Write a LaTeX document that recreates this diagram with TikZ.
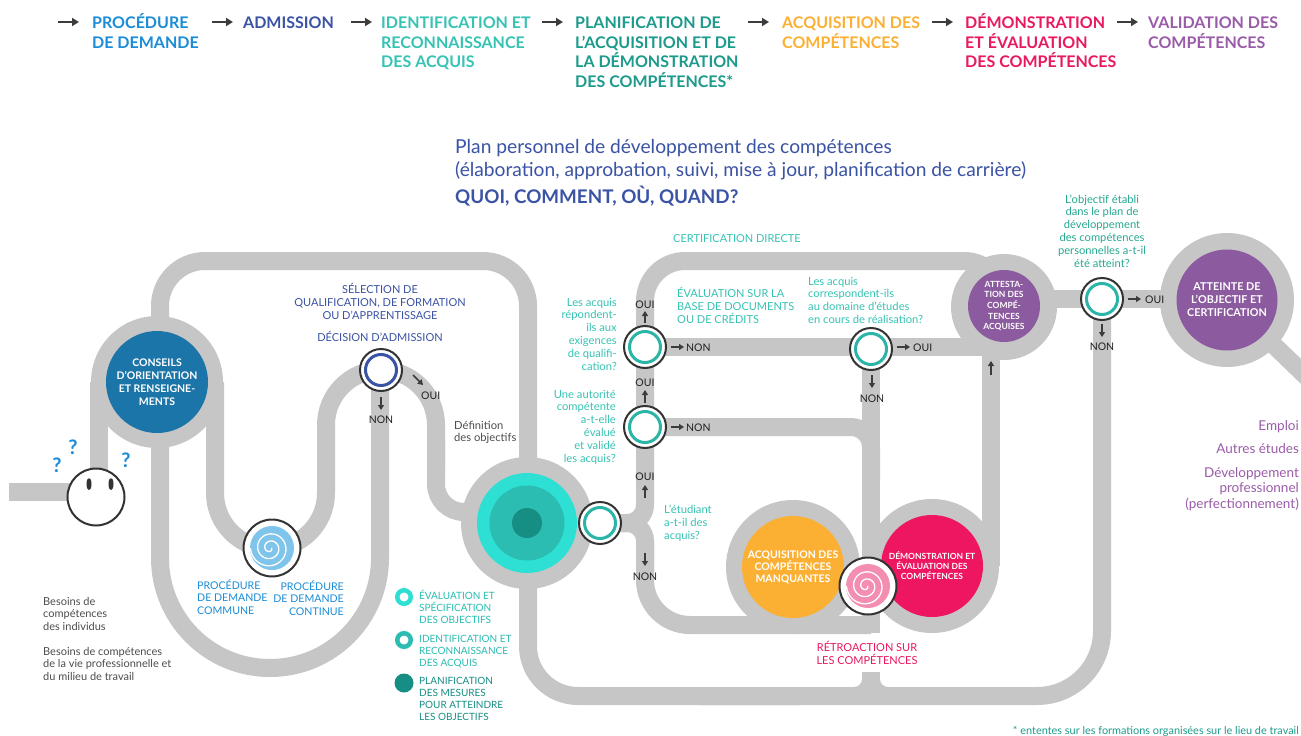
\documentclass[tikz,border=0pt]{standalone}
\usepackage{fontspec}
\setmainfont{Lato}
\usetikzlibrary{arrows.meta}
\definecolor{roadgray}{HTML}{C6C6C6}
\definecolor{arrowgray}{HTML}{3C3C3C}
\definecolor{lineblack}{HTML}{333333}
\definecolor{procblue}{HTML}{1A8CD8}
\definecolor{admblue}{HTML}{3A53A4}
\definecolor{tealA}{HTML}{36C3B3}
\definecolor{tealB}{HTML}{1C9A8B}
\definecolor{tealQ}{HTML}{27A890}
\definecolor{orangeC}{HTML}{FBB034}
\definecolor{pinkH}{HTML}{E8195E}
\definecolor{redC}{HTML}{EE1660}
\definecolor{purpleH}{HTML}{9A5BA8}
\definecolor{purpleC}{HTML}{8C5A9E}
\definecolor{conseilblue}{HTML}{1C75A8}
\definecolor{tealbright}{HTML}{2EE0D3}
\definecolor{tealmid}{HTML}{2BBCB2}
\definecolor{tealdark}{HTML}{168E84}
\definecolor{spiralblue}{HTML}{7FC4EA}
\definecolor{spiralpink}{HTML}{F38DB1}
\definecolor{textgray}{HTML}{4D4D4D}
\definecolor{ringteal}{HTML}{2BB5A8}
\definecolor{ynblack}{HTML}{222222}
\begin{document}
\begin{tikzpicture}[x=1pt,y=-1pt,
  road/.style={draw=roadgray, line width=18pt},
  hdr/.style={font=\bfseries\fontsize{16}{19.6}\selectfont, anchor=base west, align=left, inner sep=0pt},
  harrow/.style={-{Triangle[length=7pt,width=8pt]}, line width=2.2pt, draw=arrowgray},
  sarrow/.style={-{Triangle[length=5pt,width=6pt]}, line width=1.5pt, draw=arrowgray},
  small/.style={font=\fontsize{11.2}{12.8}\selectfont, inner sep=0pt},
  caps/.style={font=\fontsize{11}{12.8}\selectfont, inner sep=0pt},
  yn/.style={font=\fontsize{10.5}{12}\selectfont, text=ynblack, inner sep=0pt, anchor=base},
  dec/.style={circle, draw=lineblack, line width=2pt, fill=white, minimum size=42pt, inner sep=0pt},
  spir/.style={circle, draw=lineblack, line width=2pt, fill=white, minimum size=57pt, inner sep=0pt},
  bigc/.style={circle, inner sep=0pt, text=white, align=center},
  lgd/.style={font=\fontsize{10}{11.9}\selectfont, inner sep=0pt, anchor=base west, align=left},
]
\useasboundingbox (0,0) rectangle (1301,736);
\fill[white] (0,0) rectangle (1301,736);

% ---------------- header (anchors at last baseline) ----------------
\node[hdr, text=procblue] (h1) at (92,48.1) {PROCÉDURE\\DE DEMANDE};
\node[hdr, text=admblue] (h2) at (243,28.5) {ADMISSION};
\node[hdr, text=tealA] (h3) at (381,67.7) {IDENTIFICATION ET\\RECONNAISSANCE\\DES ACQUIS};
\node[hdr, text=tealB] (h4) at (575,87.3) {PLANIFICATION DE\\L’ACQUISITION ET DE\\LA DÉMONSTRATION\\DES COMPÉTENCES*};
\node[hdr, text=orangeC] (h5) at (782,48.1) {ACQUISITION DES\\COMPÉTENCES};
\node[hdr, text=pinkH] (h6) at (965,67.7) {DÉMONSTRATION\\ET ÉVALUATION\\DES COMPÉTENCES};
\node[hdr, text=purpleH] (h7) at (1148,48.1) {VALIDATION DES\\COMPÉTENCES};
\foreach \xa in {58,212,351,542,748,932,1117}
  \draw[harrow] (\xa,22) -- ++(21,0);

% ---------------- subtitle ----------------
\node[font=\fontsize{19.2}{23}\selectfont, text=admblue, anchor=base west, align=left, inner sep=0pt] (plan) at (455,176)
  {Plan personnel de développement des compétences\\(élaboration, approbation, suivi, mise à jour, planification de carrière)};
\node[font=\bfseries\fontsize{18.8}{21}\selectfont, text=admblue, anchor=base west, inner sep=0pt] (quoi) at (455,203.5)
  {QUOI, COMMENT, OÙ, QUAND?};

% ---------------- roads ----------------
\draw[road] (9,492) -- (96,492);
\draw[road] (99,497) -- (99,382);
\draw[road, rounded corners=45pt] (160,382) -- (160,261) -- (528,261) -- (528,523);
\draw[road] (160,382) -- (160,558) arc(180:0:110) -- (380,370);
\draw[road] (215,382) -- (215,493) arc(180:0:55.5) -- (326,425) arc(180:360:55) -- (436,470);
\draw[road, rounded corners=28pt] (436,440) -- (436,512) -- (527,512);
\draw[road, rounded corners=50pt] (528,523) -- (528,696) -- (800,696);
\draw[road, rounded corners=65pt] (700,696) -- (1102,696) -- (1102,299);
\draw[road] (527,523) -- (600,523);
\draw[road, rounded corners=18pt] (600,523) -- (645,523) -- (645,420);
\draw[road, rounded corners=40pt] (645,440) -- (645,261) -- (1004,261) -- (1004,307);
\draw[road, rounded corners=18pt] (600,523) -- (645,523) -- (645,580);
\draw[road, rounded corners=45pt] (645,540) -- (645,625) -- (871,625);
\draw[road] (645,347) -- (1004,347);
\draw[road, rounded corners=20pt] (645,427) -- (871,427) -- (871,480);
\draw[road] (871,349) -- (871,633);
\draw[road] (871,672) -- (871,696);
\fill[roadgray] (862,687) -- (862,679) arc(0:90:8) -- cycle;
\fill[roadgray] (880,687) -- (880,679) arc(180:90:8) -- cycle;
\draw[road] (991,566) -- (991,307);
\draw[road] (1004,299) -- (1227,299);
\draw[draw=roadgray, line width=18pt] (1227,300) -- (1312,382);

% gray rings
\fill[roadgray] (157,382) circle (66pt);
\fill[roadgray] (527,523) circle (66pt);
\fill[roadgray] (793,567) circle (67pt);
\fill[roadgray] (932,566) circle (67pt);
\fill[roadgray] (1004,307) circle (53pt);
\fill[roadgray] (1227,300) circle (67pt);

% ---------------- big circles ----------------
\node[bigc, fill=conseilblue, minimum size=102pt, font=\bfseries\fontsize{10.5}{13}\selectfont] (conseils) at (157,382)
  {CONSEILS\\D’ORIENTATION\\ET RENSEIGNE-\\MENTS};
\node[circle, fill=tealbright, minimum size=100pt, inner sep=0pt] (teal) at (527,523) {};
\fill[tealmid] (teal.center) circle (37.5pt);
\fill[tealdark] (teal.center) circle (15pt);
\node[bigc, fill=orangeC, minimum size=102pt, font=\bfseries\fontsize{10.5}{12}\selectfont] (orange) at (793,567)
  {ACQUISITION DES\\COMPÉTENCES\\MANQUANTES};
\node[bigc, fill=redC, minimum size=102pt, font=\bfseries\fontsize{8.5}{10}\selectfont] (red) at (932,566)
  {DÉMONSTRATION ET\\ÉVALUATION DES\\COMPÉTENCES};
\node[bigc, fill=purpleC, minimum size=72pt, font=\bfseries\fontsize{8.5}{10.7}\selectfont] (attest) at (1004,306)
  {ATTESTA-\\TION DES\\COMPÉ-\\TENCES\\ACQUISES};
\node[bigc, fill=purpleC, minimum size=101pt, font=\bfseries\fontsize{10.8}{13}\selectfont] (atteinte) at (1227,300)
  {ATTEINTE DE\\L’OBJECTIF ET\\CERTIFICATION};

% ---------------- face ----------------
\node[spir] (face) at (96,497) {};
\fill[lineblack] (89,484) ellipse (2.5pt and 6pt);
\fill[lineblack] (111,484) ellipse (2.5pt and 6pt);
\node[text=procblue, font=\bfseries\fontsize{20}{20}\selectfont, inner sep=0pt] (qm1) at (73,447) {?};
\node[text=procblue, font=\bfseries\fontsize{20}{20}\selectfont, inner sep=0pt] (qm2) at (57,465) {?};
\node[text=procblue, font=\bfseries\fontsize{20}{20}\selectfont, inner sep=0pt] (qm3) at (126,460) {?};

% ---------------- spiral circles ----------------
\node[spir] (sp1) at (272,548) {};
\fill[spiralblue] (sp1.center) circle (22pt);
\draw[white, line width=1.3pt] plot[domain=0:900, samples=150, variable=\t]
  ({270 + (1.5+\t/900*18)*cos(\t)}, {548 + (1.5+\t/900*18)*sin(\t)});
\node[spir] (sp2) at (868,586) {};
\fill[spiralpink] (sp2.center) circle (22pt);
\draw[white, line width=1.3pt] plot[domain=0:900, samples=150, variable=\t]
  ({866 + (1.5+\t/900*18)*cos(\t)}, {586 + (1.5+\t/900*18)*sin(\t)});

% ---------------- decision circles ----------------
\node[dec] (qadm) at (381,370) {};
\draw[admblue, line width=3pt] (qadm.center) circle (15.5pt);
\node[dec] (qetu) at (600,523) {};
\draw[ringteal, line width=3pt] (qetu.center) circle (15.5pt);
\node[dec] (qaut) at (645,427) {};
\draw[ringteal, line width=3pt] (qaut.center) circle (15.5pt);
\node[dec] (qrep) at (645,347) {};
\draw[ringteal, line width=3pt] (qrep.center) circle (15.5pt);
\node[dec] (qcor) at (871,349) {};
\draw[ringteal, line width=3pt] (qcor.center) circle (15.5pt);
\node[dec] (qobj) at (1102,299) {};
\draw[ringteal, line width=3pt] (qobj.center) circle (15.5pt);

% ---------------- OUI / NON ----------------
\draw[sarrow] (381,397) -- (381,410);
\node[yn] (nadm) at (381,423) {NON};
\draw[sarrow] (413,375) -- (423,385);
\node[yn, anchor=base west] (oadm) at (421,399) {OUI};

\draw[sarrow] (645,323) -- (645,311);
\node[yn] (orep) at (645,308.5) {OUI};
\draw[sarrow] (671,347) -- (684,347);
\node[yn, anchor=base west] (nrep) at (686,351) {NON};
\draw[sarrow] (645,403) -- (645,390);
\node[yn] (oaut) at (645,386) {OUI};
\draw[sarrow] (671,427) -- (684,427);
\node[yn, anchor=base west] (naut) at (686,431) {NON};
\draw[sarrow] (645,498) -- (645,485);
\node[yn] (oetu) at (645,480.5) {OUI};
\draw[sarrow] (645,553) -- (645,566);
\node[yn] (netu) at (645,580) {NON};
\draw[sarrow] (897,347) -- (910,347);
\node[yn, anchor=base west] (ocor) at (913,351) {OUI};
\draw[sarrow] (872,375) -- (872,388);
\node[yn] (ncor) at (872,402) {NON};
\draw[sarrow] (991,375) -- (991,361);
\draw[sarrow] (1128,299) -- (1141,299);
\node[yn, anchor=base west] (oobj) at (1145,303) {OUI};
\draw[sarrow] (1102,324) -- (1102,337);
\node[yn] (nobj) at (1102,350) {NON};

% ---------------- labels (anchors at last baseline) ----------------
\node[caps, text=tealA, anchor=base] (certd) at (737,242) {CERTIFICATION DIRECTE};
\node[caps, text=admblue, anchor=base, align=center] (selq) at (380,319.1)
  {SÉLECTION DE\\QUALIFICATION, DE FORMATION\\OU D’APPRENTISSAGE};
\node[caps, text=admblue, anchor=base] (decad) at (380,341.5) {DÉCISION D’ADMISSION};
\node[font=\fontsize{11}{12.7}\selectfont, inner sep=0pt, text=textgray, anchor=base west, align=left] (bes1) at (43,630.4) {Besoins de\\compétences\\des individus};
\node[font=\fontsize{11}{12.7}\selectfont, inner sep=0pt, text=textgray, anchor=base west, align=left] (bes2) at (43,680.4) {Besoins de compétences\\de la vie professionnelle et\\du milieu de travail};
\node[font=\fontsize{10.6}{12.8}\selectfont, inner sep=0pt, text=procblue, anchor=base west, align=left] (pcom) at (197,614.6) {PROCÉDURE\\DE DEMANDE\\COMMUNE};
\node[font=\fontsize{10.6}{12.8}\selectfont, inner sep=0pt, text=procblue, anchor=base east, align=right] (pcon) at (344,615.6) {PROCÉDURE\\DE DEMANDE\\CONTINUE};
\node[small, text=textgray, anchor=base west, align=left] (defo) at (454,441.8) {Définition\\des objectifs};
\node[small, text=tealA, anchor=base east, align=right] (trep) at (617,370)
  {Les acquis\\répondent-\\ils aux\\exigences\\de qualifi-\\cation?};
\node[small, text=tealA, anchor=base east, align=right] (taut) at (616,462)
  {Une autorité\\compétente\\a-t-elle\\évalué\\et validé\\les acquis?};
\node[font=\fontsize{11}{13.2}\selectfont, inner sep=0pt, text=tealA, anchor=base west, align=left] (tdoc) at (677,323.4)
  {ÉVALUATION SUR LA\\BASE DE DOCUMENTS\\OU DE CRÉDITS};
\node[small, text=tealA, anchor=base west, align=left] (tcor) at (808,323.4)
  {Les acquis\\correspondent-ils\\au domaine d’études\\en cours de réalisation?};
\node[small, text=tealA, anchor=base west, align=left] (tetu) at (664,539) {L’étudiant\\a-t-il des\\acquis?};
\node[small, text=tealQ, anchor=base, align=center] (tobj) at (1102,267)
  {L’objectif établi\\dans le plan de\\développement\\des compétences\\personnelles a-t-il\\été atteint?};
\node[caps, text=pinkH, anchor=base, align=center] (retro) at (867,664.3) {RÉTROACTION SUR\\LES COMPÉTENCES};

% legend
\node[circle, draw=tealbright, line width=4.5pt, minimum size=13.5pt, inner sep=0pt] (lg1) at (404,597) {};
\node[circle, draw=tealmid, line width=4.5pt, minimum size=13.5pt, inner sep=0pt] (lg2) at (404,640) {};
\node[circle, fill=tealdark, minimum size=19pt, inner sep=0pt] (lg3) at (404,683) {};
\node[lgd, text=tealbright!85!black] (lt1) at (419,623.3) {ÉVALUATION ET\\SPÉCIFICATION\\DES OBJECTIFS};
\node[lgd, text=tealmid] (lt2) at (419,666.3) {IDENTIFICATION ET\\RECONNAISSANCE\\DES ACQUIS};
\node[lgd, text=tealdark] (lt3) at (419,720.2) {PLANIFICATION\\DES MESURES\\POUR ATTEINDRE\\LES OBJECTIFS};

% right side
\node[font=\fontsize{13.5}{16}\selectfont, text=purpleH, anchor=base east, inner sep=0pt] (emp) at (1299,430) {Emploi};
\node[font=\fontsize{13.5}{16}\selectfont, text=purpleH, anchor=base east, inner sep=0pt] (aut) at (1299,453) {Autres études};
\node[font=\fontsize{13.5}{15.8}\selectfont, text=purpleH, anchor=base east, align=right, inner sep=0pt] (dev) at (1299,508.6)
  {Développement\\professionnel\\(perfectionnement)};

\node[font=\fontsize{10.9}{12}\selectfont, text=tealB, anchor=base east, inner sep=0pt] (foot) at (1299,734.5)
  {* ententes sur les formations organisées sur le lieu de travail};
\end{tikzpicture}
\end{document}
